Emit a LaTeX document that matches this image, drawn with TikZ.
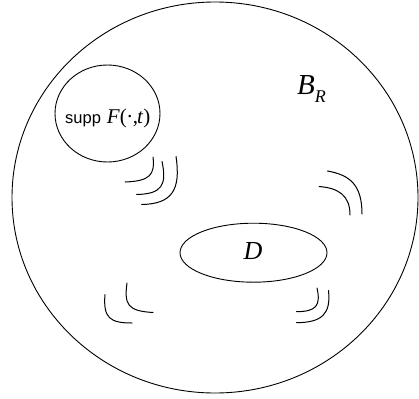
\documentclass[tikz,border=0pt]{standalone}
\usepackage{fontspec}
\setmainfont{Liberation Serif}
\newfontfamily\arialfont{Liberation Sans}
\usetikzlibrary{shapes.geometric}
\tikzset{
  region/.style={draw, ellipse, line width=0.9pt, inner sep=0pt},
  flux/.style={line width=1pt, line cap=round},
}
\begin{document}
\begin{tikzpicture}[x=1pt, y=-1pt]
\useasboundingbox (0,0) rectangle (419,398);
% big ball
\node[region, minimum width=406pt, minimum height=391pt] (BR) at (215,197.5) {};
% support
\node[region, minimum width=105pt, minimum height=97pt] (supp) at (107.5,113.5) {};
% domain D
\node[region, minimum width=147pt, minimum height=59pt] (D) at (253.5,252.7) {};
% labels
\node[anchor=base west, inner sep=0pt] (suppl) at (65,124)
  {{\arialfont\fontsize{16.5}{16.5}\selectfont supp}\hspace{6pt}{\fontsize{21}{21}\selectfont\textit{F}(\kern-0.5pt·\kern-0.5pt,\kern-1pt\textit{t})}};
\node[anchor=base, inner sep=0pt] (Dl) at (253,259) {\fontsize{26}{26}\selectfont\textit{D}};
\node[anchor=base west, inner sep=0pt] (BRl) at (297,95)
  {\fontsize{29}{29}\selectfont\textit{B}\raisebox{-8pt}{\fontsize{18}{18}\selectfont\textit{R}}};
% waves upper left
\draw[flux] (125,182) .. controls (150,181) and (155,175) .. (153,157);
\draw[flux] (136.5,194.5) .. controls (162,194) and (167,185) .. (162,161.5);
\draw[flux] (141.5,204.5) .. controls (172,204) and (181,190) .. (176,156.5);
% waves upper right
\draw[flux] (327.5,171) .. controls (350,175) and (362,185) .. (362,214);
\draw[flux] (319,186.5) .. controls (338,188) and (350,195) .. (350,215);
% waves lower left
\draw[flux] (127,283) .. controls (124,305) and (128,311) .. (153,312.5);
\draw[flux] (105,294.5) .. controls (103,318) and (110,323) .. (132,323);
% waves lower right
\draw[flux] (317,288) .. controls (321,306) and (316,311.5) .. (296.5,311.7);
\draw[flux] (328.5,290.5) .. controls (331,314) and (322,322.5) .. (296.5,322.7);
\end{tikzpicture}
\end{document}
